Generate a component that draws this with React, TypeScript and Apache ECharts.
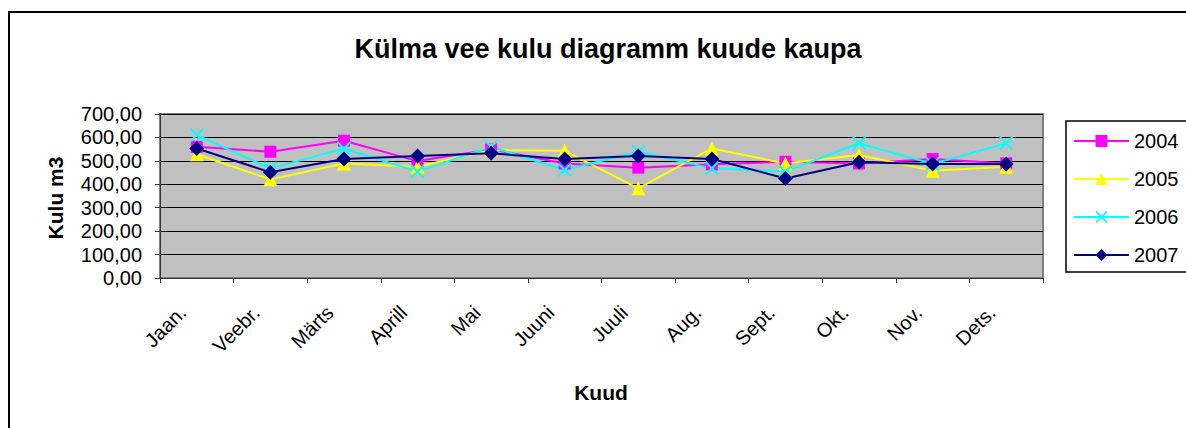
import React, { useEffect, useRef } from "react";
import * as echarts from "echarts";

const months = ["Jaan.", "Veebr.", "Märts", "Aprill", "Mai", "Juuni", "Juuli", "Aug.", "Sept.", "Okt.", "Nov.", "Dets."];
const years = ["2004", "2005", "2006", "2007"];
const v2004 = [560, 539, 586, 499, 549, 489, 471, 485, 496, 489, 508, 489];
const v2005 = [528, 421, 489, 475, 546, 543, 383, 553, 489, 525, 458, 475];
const v2006 = [610, 468, 553, 454, 560, 461, 539, 468, 454, 575, 487, 575];
const v2007 = [553, 451, 508, 521, 532, 508, 521, 508, 425, 494, 487, 487];
const titleText = "Külma vee kulu diagramm kuude kaupa";
const yTitle = "Kulu m3";
const xTitle = "Kuud";

const FONT = "'Liberation Sans', Arial, sans-serif";
const CROSS = "path://M1,0L5,4L9,0L10,1L6,5L10,9L9,10L5,6L1,10L0,9L4,5L0,1Z";

export default function App() {
  const ref = useRef<HTMLDivElement>(null);
  useEffect(() => {
    document.body.style.margin = "0";
    const chart = echarts.init(ref.current!, null, { renderer: "svg" });
    const values = [v2004, v2005, v2006, v2007];
    const colors = ["#ff00ff", "#ffff00", "#00ffff", "#000080"];
    const symbols = ["rect", "triangle", CROSS, "diamond"];
    const sizes = [12, 14, 14, 15];
    chart.setOption({
      animation: false,
      backgroundColor: "#ffffff",
      title: {
        text: titleText,
        left: 603,
        top: 30,
        textAlign: "center",
        textStyle: { fontFamily: FONT, fontSize: 27, fontWeight: "bold", color: "#000" },
      },
      graphic: [
        {
          type: "rect",
          shape: { x: 9, y: 12, width: 1220, height: 440 },
          style: { fill: "none", stroke: "#000", lineWidth: 2 },
          silent: true,
          z: -1,
        },
        {
          type: "text",
          x: 55,
          y: 198,
          rotation: Math.PI / 2,
          style: { text: yTitle, fontFamily: FONT, fontSize: 21, fontWeight: "bold", fill: "#000", align: "center", verticalAlign: "middle" },
        },
        {
          type: "text",
          x: 601,
          y: 392,
          style: { text: xTitle, fontFamily: FONT, fontSize: 21, fontWeight: "bold", fill: "#000", align: "center", verticalAlign: "middle" },
        },
      ],
      legend: {
        orient: "vertical",
        left: 1066,
        top: 121,
        padding: [10, 40, 7, 7],
        borderColor: "#000",
        borderWidth: 1.5,
        itemWidth: 55,
        itemHeight: 15,
        itemGap: 18,
        textStyle: { fontFamily: FONT, fontSize: 20, color: "#000", lineHeight: 20 },
        data: years,
      },
      grid: {
        left: 160,
        top: 114,
        width: 883,
        height: 164,
        show: true,
        backgroundColor: "#c0c0c0",
        borderColor: "#808080",
        borderWidth: 2,
      },
      xAxis: {
        type: "category",
        data: months,
        boundaryGap: true,
        axisLine: { lineStyle: { color: "#333", width: 1 } },
        axisTick: { show: true, length: 5, lineStyle: { color: "#333" } },
        axisLabel: {
          rotate: 45,
          margin: 17,
          padding: [0, 20, 0, 0],
          fontFamily: FONT,
          fontSize: 20,
          color: "#000",
          interval: 0,
        },
      },
      yAxis: {
        type: "value",
        min: 0,
        max: 700,
        interval: 100,
        axisLine: { show: true, lineStyle: { color: "#333", width: 1 } },
        axisTick: { show: true, length: 5, lineStyle: { color: "#333" } },
        axisLabel: {
          margin: 18,
          fontFamily: FONT,
          fontSize: 20,
          color: "#000",
          formatter: (v: number) => v.toFixed(2).replace(".", ","),
        },
        splitLine: { show: true, lineStyle: { color: "#000", width: 1 } },
      },
      series: years.map((y, i) => ({
        name: y,
        type: "line",
        data: values[i],
        symbol: symbols[i],
        symbolSize: sizes[i],
        showAllSymbol: true,
        lineStyle: { color: colors[i], width: 2 },
        itemStyle: { color: colors[i], borderWidth: 0 },
      })),
    });
    return () => chart.dispose();
  }, []);
  return <div ref={ref} style={{ width: 1186, height: 428 }} />;
}
